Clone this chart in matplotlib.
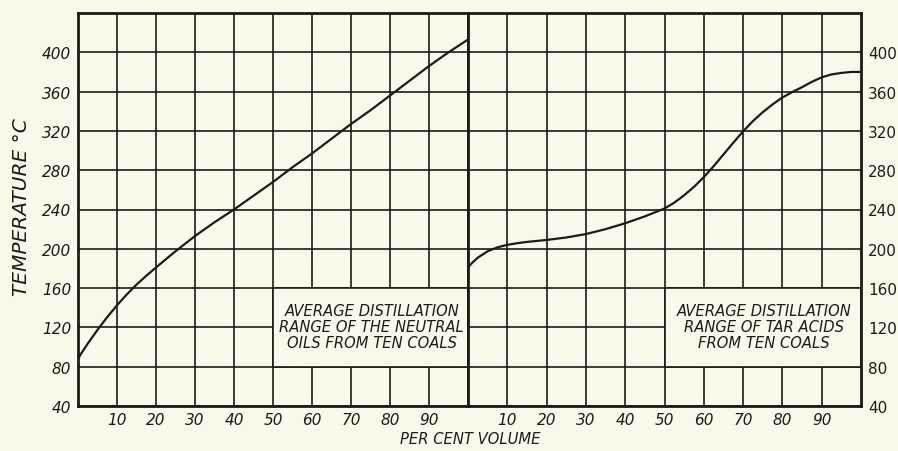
import matplotlib
matplotlib.use("Agg")
import matplotlib.pyplot as plt
from matplotlib.patches import Rectangle

# Per cent volume distilled and temperature (deg C) for the two curves
oil_volume = [0, 1, 2.5, 5, 7.5, 10, 12.5, 15, 17.5, 20, 25, 30, 35, 40, 45,
              50, 55, 60, 65, 70, 75, 80, 85, 90, 95, 100]
oil_temp = [88, 94.5, 103.5, 117.5, 130.5, 142.5, 153.5, 163.5, 172.5, 181,
            197.5, 213, 227, 240, 254, 268, 283, 297, 312, 327, 341, 356, 371,
            386, 400, 413]

acid_volume = [0, 1, 2.5, 5, 7.5, 10, 12.5, 15, 20, 25, 30, 35, 40, 45, 50,
               52.5, 55, 57.5, 60, 62.5, 65, 67.5, 70, 72.5, 75, 77.5, 80,
               82.5, 85, 87.5, 90, 92.5, 95, 97.5, 100]
acid_temp = [181, 185.5, 191, 197.5, 201.5, 204, 205.7, 207, 209, 211.5, 215,
             220, 226, 233, 241, 247, 254.5, 263, 273, 284, 296, 308, 319.5,
             330, 339, 347, 354, 359.5, 364.5, 370, 374.5, 377.5, 379, 380,
             380]

x_ticks = [10, 20, 30, 40, 50, 60, 70, 80, 90]
y_ticks = [40, 80, 120, 160, 200, 240, 280, 320, 360, 400]

oil_note = "AVERAGE DISTILLATION\nRANGE OF THE NEUTRAL\nOILS FROM TEN COALS"
acid_note = "AVERAGE DISTILLATION\nRANGE OF TAR ACIDS\nFROM TEN COALS"

paper = "#fbf8ea"
ink = "#1e1a14"

fig = plt.figure(figsize=(8.98, 4.52), dpi=100, facecolor=paper)
ax1 = fig.add_axes([78 / 898, 45 / 452, 390 / 898, 393 / 452])
ax2 = fig.add_axes([468 / 898, 45 / 452, 393 / 898, 393 / 452])

label_font = dict(family="DejaVu Sans", style="italic", color=ink)


def setup(ax, vol, temp, note, side):
    ax.set_facecolor(paper)
    ax.set_xlim(0, 100)
    ax.set_ylim(40, 440)
    ax.set_xticks(x_ticks)
    ax.set_yticks(y_ticks)
    ax.set_axisbelow(True)
    ax.grid(True, color=ink, linewidth=1.2)
    for s in ax.spines.values():
        s.set_color(ink)
        s.set_linewidth(2.0)
    ax.tick_params(length=0, labelsize=11, colors=ink, pad=5)
    ax.tick_params(axis="x", pad=4)
    for t in ax.get_xticklabels() + ax.get_yticklabels():
        t.set_fontstyle("italic")
    if side == "right":
        ax.yaxis.tick_right()
    # blank panel holding the caption
    ax.add_patch(Rectangle((50, 80), 50, 80, facecolor=paper, edgecolor=ink,
                           linewidth=1.2, zorder=1))
    ax.text(75.3, 121, note, ha="center", va="center", fontsize=10.6,
            linespacing=1.1, zorder=3, **label_font)
    ax.plot(vol, temp, color=ink, linewidth=1.6, zorder=2)


setup(ax1, oil_volume, oil_temp, oil_note, "left")
setup(ax2, acid_volume, acid_temp, acid_note, "right")

fig.text(22 / 898, 1 - 207 / 452, "TEMPERATURE \u00b0C", rotation=90,
         ha="center", va="center", fontsize=14.5, **label_font)
fig.text(470 / 898, 1 - 440 / 452, "PER CENT VOLUME", ha="center",
         va="center", fontsize=10.6, **label_font)

fig.savefig("out.png", dpi=100, facecolor=paper)
